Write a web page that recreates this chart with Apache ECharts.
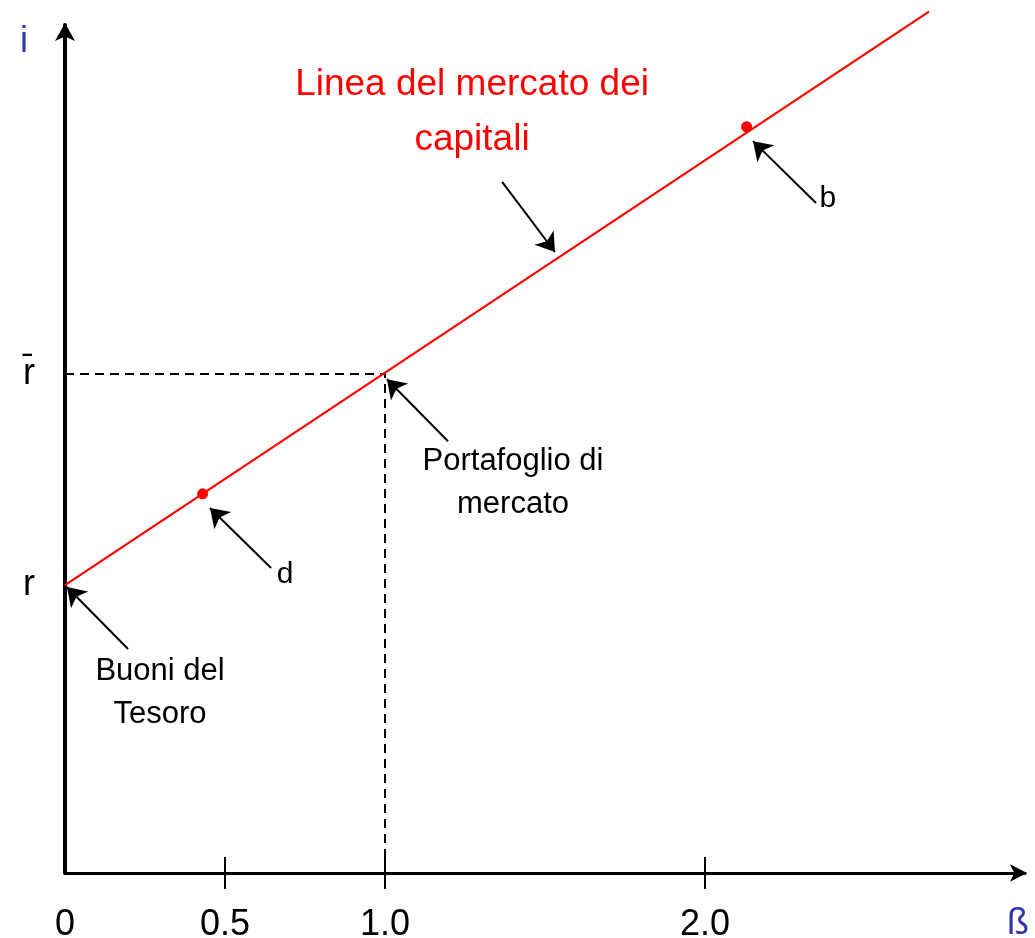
<!DOCTYPE html>
<html>
<head>
<meta charset="utf-8">
<script src="https://cdn.jsdelivr.net/npm/echarts@6/dist/echarts.min.js"></script>
<style>html,body{margin:0;padding:0;background:#fff}#c{width:1035px;height:938px}</style>
</head>
<body>
<div id="c"></div>
<script>
// ---- data ----
const betaTicks = [0.5, 1, 2];
const betaLabels = [0, 0.5, 1, 2];
const yTickValues = [6, 10.4];
const yTickLabels = ['r', 'r\u0304'];
const smlBeta = [0, 2.7];
const smlReturn = [6, 17.95];
const marketBeta = 1;
const marketReturn = 10.4;
const pointNames = ['d', 'b'];
const pointBeta = [0.43, 2.13];
const pointReturn = [7.9, 15.55];
// annotation arrows: tails and tips in data units
const arrowTails = [[0.197, 4.667], [0.644, 6.354], [2.347, 13.96], [1.197, 8.998], [1.366, 14.40]];
const arrowTips  = [[0.006, 5.958], [0.453, 7.604], [2.150, 15.25], [1.006, 10.29], [1.531, 12.94]];
// annotation texts
const noteTexts = ['Linea del mercato dei\ncapitali', 'Portafoglio di\nmercato', 'Buoni del\nTesoro', 'd', 'b'];
const notePos = [[1.272, 15.85], [1.4, 8.125], [0.297, 3.75], [0.6875, 6.21], [2.384, 14.04]];

const FONT = '"Liberation Sans", Arial, sans-serif';
const BLUE = '#3535a8';
const noteStyles = [
  {fontSize: 37, color: '#ff0000', lineHeight: 55},
  {fontSize: 31, color: '#000000', lineHeight: 43},
  {fontSize: 31, color: '#000000', lineHeight: 43},
  {fontSize: 30, color: '#000000'},
  {fontSize: 30, color: '#000000'}
];

const chart = echarts.init(document.getElementById('c'));
const tickFmt = v => (v === 0 ? '0' : v.toFixed(1));
chart.setOption({
  animation: false,
  backgroundColor: '#fff',
  grid: {left: 65, right: 10, top: 25, bottom: 65, containLabel: false, outerBoundsMode: 'none'},
  xAxis: [{
    type: 'value', min: 0, max: 3,
    axisLine: {show: true, symbol: ['none', 'arrow'], symbolSize: [13, 17], symbolOffset: [0, 2], lineStyle: {color: '#000', width: 3}},
    axisTick: {show: true, customValues: betaTicks, length: 16, lineStyle: {color: '#000', width: 2}},
    axisLabel: {show: true, customValues: betaLabels, formatter: tickFmt, fontSize: 36, color: '#000', fontFamily: FONT, margin: 34},
    splitLine: {show: false}
  }, {
    type: 'value', min: 0, max: 3, position: 'bottom',
    axisLine: {show: false},
    axisTick: {show: true, inside: true, customValues: betaTicks, length: 16, lineStyle: {color: '#000', width: 2}},
    axisLabel: {show: false},
    splitLine: {show: false}
  }],
  yAxis: {
    type: 'value', min: 0, max: 17.67,
    name: 'i',
    nameLocation: 'end', nameGap: -17,
    nameTextStyle: {fontSize: 36, color: BLUE, fontFamily: FONT, align: 'center', verticalAlign: 'middle', padding: [0, 82, 0, 0]},
    axisLine: {show: true, symbol: ['none', 'arrow'], symbolSize: [15, 18], symbolOffset: [0, 2], lineStyle: {color: '#000', width: 4}},
    axisTick: {show: false},
    axisLabel: {show: true, customValues: yTickValues, formatter: v => yTickLabels[yTickValues.indexOf(v)], fontSize: 36, color: '#000', fontFamily: FONT, margin: 30},
    splitLine: {show: false}
  },
  series: [{
    type: 'line', name: 'dashed',
    data: [[0, marketReturn], [marketBeta, marketReturn], [marketBeta, 0]],
    symbol: 'none', lineStyle: {color: '#000', width: 2, type: [9, 6]}, z: 2
  }, {
    type: 'line', name: 'SML',
    data: smlBeta.map((b, i) => [b, smlReturn[i]]),
    symbol: 'none', clip: false, lineStyle: {color: '#ff0000', width: 2.2}, z: 3
  }, {
    type: 'scatter', name: 'points',
    data: pointNames.map((n, i) => ({name: n, value: [pointBeta[i], pointReturn[i]]})),
    symbolSize: 11, itemStyle: {color: '#ff0000', opacity: 1}, z: 4
  }, {
    type: 'lines', coordinateSystem: 'cartesian2d', name: 'arrows',
    data: arrowTails.map((t, i) => ({coords: [t, arrowTips[i]]})),
    symbol: ['none', 'arrow'], symbolSize: 18,
    lineStyle: {color: '#000', width: 2, opacity: 1, curveness: 0}, z: 5
  }, {
    type: 'scatter', name: 'notes', silent: true,
    symbolSize: 1, itemStyle: {color: 'rgba(0,0,0,0)', opacity: 1},
    data: noteTexts.map((t, i) => ({
      name: t, value: notePos[i],
      label: Object.assign({show: true, position: 'inside', formatter: '{b}', fontFamily: FONT, align: 'center', verticalAlign: 'middle', opacity: 1}, noteStyles[i])
    })),
    labelLayout: {hideOverlap: false}, z: 6
  }]
});

// x-axis name placed below the axis end, tied to the axis scale
const xEnd = chart.convertToPixel({xAxisIndex: 0}, 3);
const yBase = chart.convertToPixel({yAxisIndex: 0}, 0);
chart.setOption({
  graphic: [{
    type: 'text', x: xEnd - 7, y: yBase + 51,
    style: {text: '\u00df', fontSize: 36, fill: BLUE, fontFamily: FONT, align: 'center', verticalAlign: 'middle'}
  }]
});
</script>
</body>
</html>
